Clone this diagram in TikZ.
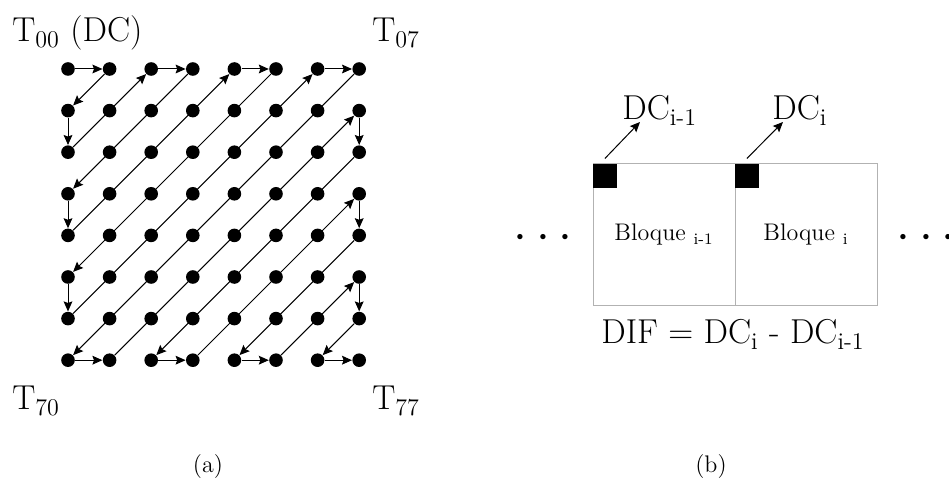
\documentclass[tikz,border=0pt]{standalone}
\usepackage{tikz}
\usetikzlibrary{arrows.meta}

\tikzset{
  coef/.style={circle,fill=black,inner sep=0pt,minimum size=6.8pt},
  bloque/.style={draw=black!30,line width=0.5pt,minimum width=71pt,
    minimum height=71pt,inner sep=0pt,font=\large},
  dcsq/.style={fill=black,inner sep=0pt,minimum size=12pt},
  lbl/.style={inner sep=0pt,font=\LARGE},
  scan/.style={->,line width=0.5pt},
}

\begin{document}
\begin{tikzpicture}[x=0.5pt,y=-0.5pt,>={Stealth[length=5pt,width=4.4pt,inset=0.8pt]}]
  \useasboundingbox (0,0) rectangle (949,480);
  % (a) zig-zag scan of the 8x8 coefficients
  \foreach \r in {0,...,7}
    \foreach \c in {0,...,7}
      \node[coef] (t\r\c) at ({68+41.6*\c},{69+41.6*\r}) {};
  \foreach \a/\b in {00/01,01/10,10/20,20/02,02/03,03/30,30/40,40/04,
      04/05,05/50,50/60,60/06,06/07,07/70,70/71,71/17,17/27,27/72,
      72/73,73/37,37/47,47/74,74/75,75/57,57/67,67/76,76/77}
    \draw[scan] (t\a) -- (t\b);
  \node[lbl,anchor=base west] (lbl00) at (12,42) {T\textsubscript{00} (DC)};
  \node[lbl,anchor=base west] (lbl07) at (372,42) {T\textsubscript{07}};
  \node[lbl,anchor=base west] (lbl70) at (12,410) {T\textsubscript{70}};
  \node[lbl,anchor=base west] (lbl77) at (372,410) {T\textsubscript{77}};
  \node[font=\large,anchor=base] (capa) at (208,473) {(a)};
  % (b) DC of neighbouring blocks
  \node[bloque] (bprev) at (664,235) {Bloque \textsubscript{i-1}};
  \node[bloque] (bcur) at (806,235) {Bloque \textsubscript{i}};
  \node[dcsq,anchor=north west] (dcprev) at (bprev.north west) {};
  \node[dcsq,anchor=north west] (dccur) at (bcur.north west) {};
  \node[lbl,anchor=base west] (lprev) at (622,120) {DC\textsubscript{i-1}};
  \node[lbl,anchor=base west] (lcur) at (772,120) {DC\textsubscript{i}};
  \draw[scan] ([yshift=2.5pt]dcprev.north) -- ([xshift=9pt,yshift=-1pt]lprev.base west);
  \draw[scan] ([yshift=2.5pt]dccur.north) -- ([xshift=5.5pt,yshift=-1pt]lcur.base west);
  \node[font=\Huge] (dotsl) at (543,238) {$\cdots$};
  \node[font=\Huge] (dotsr) at (926,238) {$\cdots$};
  \node[lbl,anchor=base] (dif) at (733,344) {DIF = DC\textsubscript{i} - DC\textsubscript{i-1}};
  \node[font=\large,anchor=base] (capb) at (711,473) {(b)};
\end{tikzpicture}
\end{document}
